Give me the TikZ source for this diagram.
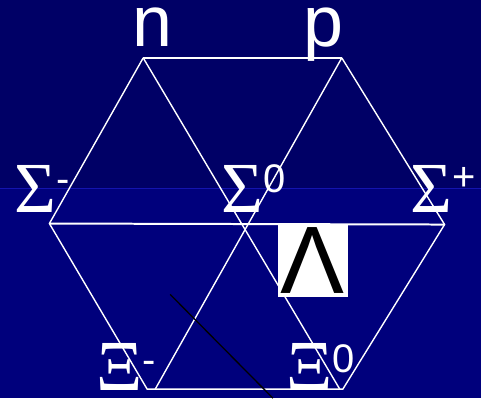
\documentclass[tikz,border=0pt]{standalone}
\usepackage{fontspec}
\setmainfont{Liberation Serif}
\newfontfamily\arial{Liberation Sans}
\usetikzlibrary{positioning}
\definecolor{topblue}{RGB}{0,0,102}
\definecolor{lowblue}{RGB}{0,0,124}
\definecolor{seamblue}{RGB}{20,20,175}
\newcommand\grk[1]{{\fontsize{72}{72}\selectfont#1}}
\newcommand\chg[2][20pt]{\raisebox{#1}{\arial\fontsize{40}{40}\selectfont#2}}

\begin{document}
\begin{tikzpicture}[x=1pt,y=-1pt,
		lbl/.style={text=white,inner sep=0pt,anchor=base west},
		side/.style={draw=white,line width=1.4pt},
		mid/.style={draw=white,line width=2pt}]
	\fill[topblue] (0,0) rectangle (481,188);
	\fill[lowblue] (0,188) rectangle (481,399);
	\draw[seamblue,line width=1pt] (0,188.5) -- (481,188.5);
	\useasboundingbox (0,0) rectangle (481,399);
	\coordinate (N) at (143,58);
	\coordinate (P) at (342,58);
	\coordinate (Sm) at (49,224);
	\coordinate (Sp) at (445,225);
	\coordinate (Xm) at (147,390);
	\coordinate (Xz) at (343,390);
	\coordinate (Xm') at (155,390);
	\coordinate (Xz') at (340,390);
	\draw[mid] (N) -- (P);
	\draw[mid] (Sm) -- (Sp);
	\draw[side] (P) -- (Sp) -- (Xz) -- (Xm) -- (Sm) -- (N);
	\draw[side] (N) -- (Xz');
	\draw[side] (P) -- (Xm');
	\node[lbl] (n) at (132,47) {\arial\fontsize{72}{72}\selectfont n};
	\node[lbl] (p) at (303,47) {\arial\fontsize{72}{72}\selectfont p};
	\node[lbl] (S-) at (14,213) {\grk{Σ}\chg{-}};
	\node[lbl] (S0) at (221,213) {\grk{Σ}\chg{0}};
	\node[lbl] (S+) at (411,213) {\grk{Σ}\chg[22pt]{+}};
	\node[lbl] (X-) at (96,391) {\grk{Ξ}\chg[17pt]{-}};
	\node[lbl] (X0) at (286,391) {\grk{Ξ}\chg[18pt]{0}};
	\node[fill=white,text=black,inner sep=0pt,minimum width=70pt,minimum height=74pt] (L) at (313,261) {\arial\fontsize{96}{96}\selectfont Λ};
	\coordinate (a) at (170,295);
	\coordinate (b) at (273,399);
	\draw[black,line width=1.3pt] (a) -- (b);
\end{tikzpicture}
\end{document}
